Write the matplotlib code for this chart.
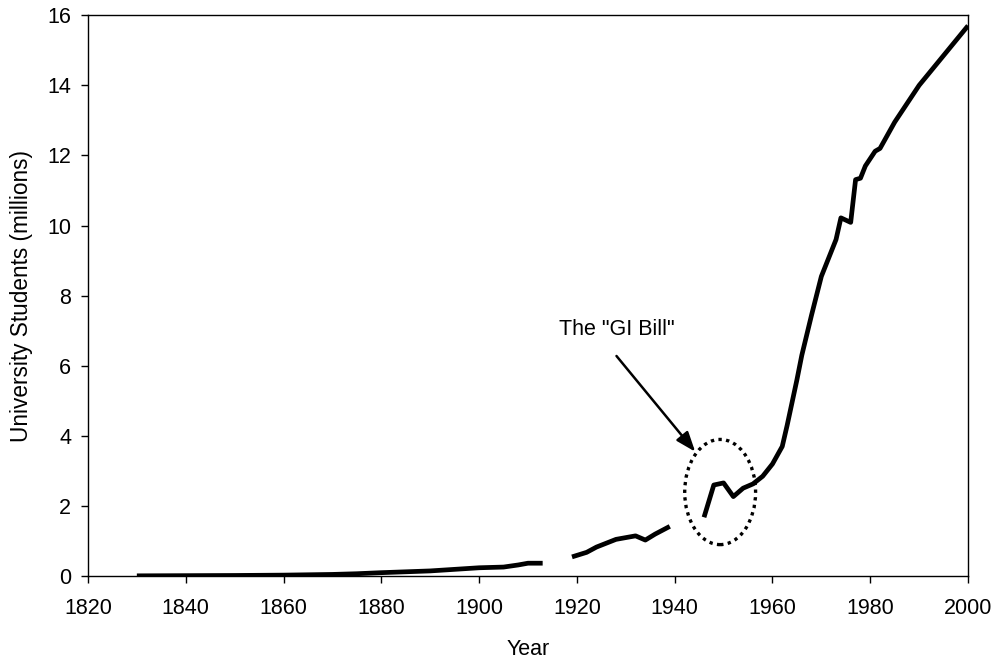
import matplotlib.pyplot as plt
from matplotlib.patches import Ellipse

plt.rcParams['font.family'] = ['Liberation Sans', 'DejaVu Sans']

# enrollment, three periods with gaps between them
years_a = [1830, 1840, 1850, 1860, 1870, 1875, 1880, 1890, 1900, 1905, 1908, 1910, 1913]
students_a = [0.01, 0.015, 0.02, 0.03, 0.05, 0.07, 0.1, 0.15, 0.24, 0.26, 0.32, 0.37, 0.37]

years_b = [1919, 1922, 1924, 1926, 1928, 1930, 1932, 1934, 1936, 1939]
students_b = [0.55, 0.68, 0.83, 0.94, 1.05, 1.1, 1.15, 1.03, 1.2, 1.42]

years_c = [1946, 1948, 1950, 1952, 1954, 1956, 1958, 1960, 1962, 1963, 1964, 1965,
           1966, 1968, 1970, 1972, 1973, 1974, 1976, 1977, 1978, 1979, 1981, 1982,
           1985, 1990, 2000]
students_c = [1.68, 2.6, 2.66, 2.27, 2.51, 2.63, 2.85, 3.2, 3.7, 4.3, 4.95, 5.6,
              6.3, 7.45, 8.55, 9.25, 9.6, 10.22, 10.09, 11.31, 11.35, 11.7, 12.12, 12.2,
              12.95, 14.0, 15.7]

fig, ax = plt.subplots(figsize=(9.95, 6.6), dpi=100)
fig.subplots_adjust(left=0.0884, right=0.9729, top=0.977, bottom=0.127)

for xs, ys in [(years_a, students_a), (years_b, students_b), (years_c, students_c)]:
    ax.plot(xs, ys, color='black', lw=3.4, solid_capstyle='butt')

ax.add_patch(Ellipse((1949.3, 2.4), 14.5, 3.0, fill=False, ec='black',
                     lw=2.4, ls=(0, (1, 1.3))))
ax.text(1928.1, 7.03, 'The "GI Bill"', ha='center', va='center', fontsize=15.5)
ax.annotate('', xy=(1944.2, 3.55), xytext=(1928.1, 6.28),
            arrowprops=dict(arrowstyle='-|>,head_length=1.2,head_width=0.45',
                            color='black', lw=1.8, shrinkA=0, shrinkB=0))

ax.set_xlim(1820, 2000)
ax.set_ylim(0, 16)
ax.set_xticks(range(1820, 2001, 20))
ax.set_yticks(range(0, 17, 2))
ax.tick_params(direction='out', length=5, width=1, labelsize=15.5)
ax.tick_params(axis='x', pad=11)
ax.tick_params(axis='y', pad=7)
for s in ax.spines.values():
    s.set_linewidth(1)
ax.set_xlabel('Year', fontsize=15.5)
ax.set_ylabel('University Students (millions)', fontsize=16.3)
ax.xaxis.set_label_coords(0.5, -0.112)
ax.yaxis.set_label_coords(-0.062, 0.5)

plt.savefig('out.png', dpi=100)
